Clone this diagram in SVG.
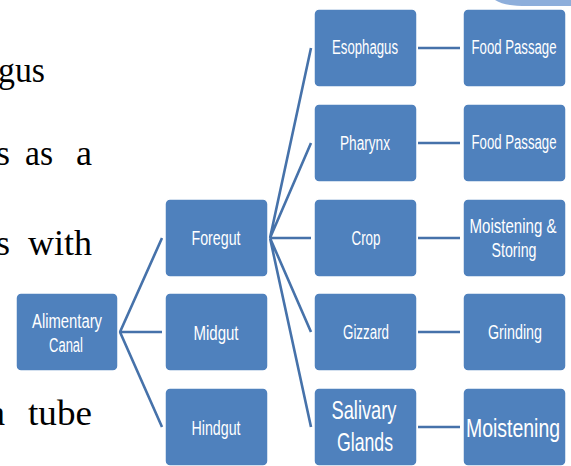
<svg xmlns="http://www.w3.org/2000/svg" width="571" height="466" viewBox="0 0 571 466">
<style>
.bg{fill:#ffffff}
.para{font-family:"Liberation Serif","Times New Roman",serif;font-size:36px;fill:#000000}
.box{fill:#4F81BD;stroke:#ffffff;stroke-width:1.5}
.lbl{font-family:"Liberation Sans",Arial,sans-serif;font-size:20px;fill:#ffffff;text-anchor:middle}
.big{font-size:26px}
.con{stroke:#4672AA;stroke-width:2.6;fill:none;stroke-linecap:butt}
</style>
<rect class="bg" x="0" y="0" width="571" height="466"/>
<path d="M495,0 C503,5 512,6 528,6 L571,6 L571,0 Z" fill="#8DAEDB"/>
<g id="paragraph">
<text class="para" x="-2" y="82" textLength="47" lengthAdjust="spacingAndGlyphs">gus</text>
<text class="para" x="-4" y="165">s</text>
<text class="para" x="25" y="165" textLength="28" lengthAdjust="spacingAndGlyphs">as</text>
<text class="para" x="76" y="165">a</text>
<text class="para" x="-4" y="255">s</text>
<text class="para" x="28" y="255" textLength="64" lengthAdjust="spacingAndGlyphs">with</text>
<text class="para" x="-11" y="425">a</text>
<text class="para" x="28" y="425" textLength="64" lengthAdjust="spacingAndGlyphs">tube</text>
</g>
<g id="connectors">
<path class="con" d="M162,238 L120,332 L162,427 M120,332 L162,332"/>
<path class="con" d="M311,48 L270,238 L311,143 M270,238 L311,238 M311,332 L270,238 L311,427"/>
<path class="con" d="M418,48 H460 M418,143 H460 M418,238 H460 M418,332 H460 M418,427 H460"/>
</g>
<g id="alimentary-canal">
<rect class="box" x="16" y="293" width="102" height="78" rx="5"/>
<text class="lbl" x="67" y="328" textLength="70" lengthAdjust="spacingAndGlyphs">Alimentary</text>
<text class="lbl" x="66" y="352" textLength="34" lengthAdjust="spacingAndGlyphs">Canal</text>
</g>
<g id="foregut">
<rect class="box" x="165" y="199" width="103" height="78" rx="5"/>
<text class="lbl" x="216" y="245" textLength="49" lengthAdjust="spacingAndGlyphs">Foregut</text>
</g>
<g id="midgut">
<rect class="box" x="165" y="293" width="103" height="78" rx="5"/>
<text class="lbl" x="216" y="340" textLength="45" lengthAdjust="spacingAndGlyphs">Midgut</text>
</g>
<g id="hindgut">
<rect class="box" x="165" y="388" width="103" height="78" rx="5"/>
<text class="lbl" x="216" y="435" textLength="49" lengthAdjust="spacingAndGlyphs">Hindgut</text>
</g>
<g id="esophagus">
<rect class="box" x="314" y="9" width="103" height="78" rx="5"/>
<text class="lbl" x="365" y="54" textLength="66" lengthAdjust="spacingAndGlyphs">Esophagus</text>
</g>
<g id="pharynx">
<rect class="box" x="314" y="104" width="103" height="78" rx="5"/>
<text class="lbl" x="365" y="150" textLength="50" lengthAdjust="spacingAndGlyphs">Pharynx</text>
</g>
<g id="crop">
<rect class="box" x="314" y="199" width="103" height="78" rx="5"/>
<text class="lbl" x="366" y="245" textLength="29" lengthAdjust="spacingAndGlyphs">Crop</text>
</g>
<g id="gizzard">
<rect class="box" x="314" y="293" width="103" height="78" rx="5"/>
<text class="lbl" x="366" y="339" textLength="46" lengthAdjust="spacingAndGlyphs">Gizzard</text>
</g>
<g id="salivary-glands">
<rect class="box" x="314" y="388" width="103" height="78" rx="5"/>
<text class="lbl big" x="364" y="419" textLength="65" lengthAdjust="spacingAndGlyphs">Salivary</text>
<text class="lbl big" x="365" y="451" textLength="56" lengthAdjust="spacingAndGlyphs">Glands</text>
</g>
<g id="food-passage-1">
<rect class="box" x="463" y="9" width="103" height="78" rx="5"/>
<text class="lbl" x="514" y="54" textLength="85" lengthAdjust="spacingAndGlyphs">Food Passage</text>
</g>
<g id="food-passage-2">
<rect class="box" x="463" y="104" width="103" height="78" rx="5"/>
<text class="lbl" x="514" y="149" textLength="85" lengthAdjust="spacingAndGlyphs">Food Passage</text>
</g>
<g id="moistening-storing">
<rect class="box" x="463" y="199" width="103" height="78" rx="5"/>
<text class="lbl" x="513" y="233" textLength="87" lengthAdjust="spacingAndGlyphs">Moistening &amp;</text>
<text class="lbl" x="514" y="257" textLength="45" lengthAdjust="spacingAndGlyphs">Storing</text>
</g>
<g id="grinding">
<rect class="box" x="463" y="293" width="103" height="78" rx="5"/>
<text class="lbl" x="515" y="339" textLength="54" lengthAdjust="spacingAndGlyphs">Grinding</text>
</g>
<g id="moistening">
<rect class="box" x="463" y="388" width="103" height="78" rx="5"/>
<text class="lbl big" x="513" y="437" textLength="94" lengthAdjust="spacingAndGlyphs">Moistening</text>
</g>
</svg>
